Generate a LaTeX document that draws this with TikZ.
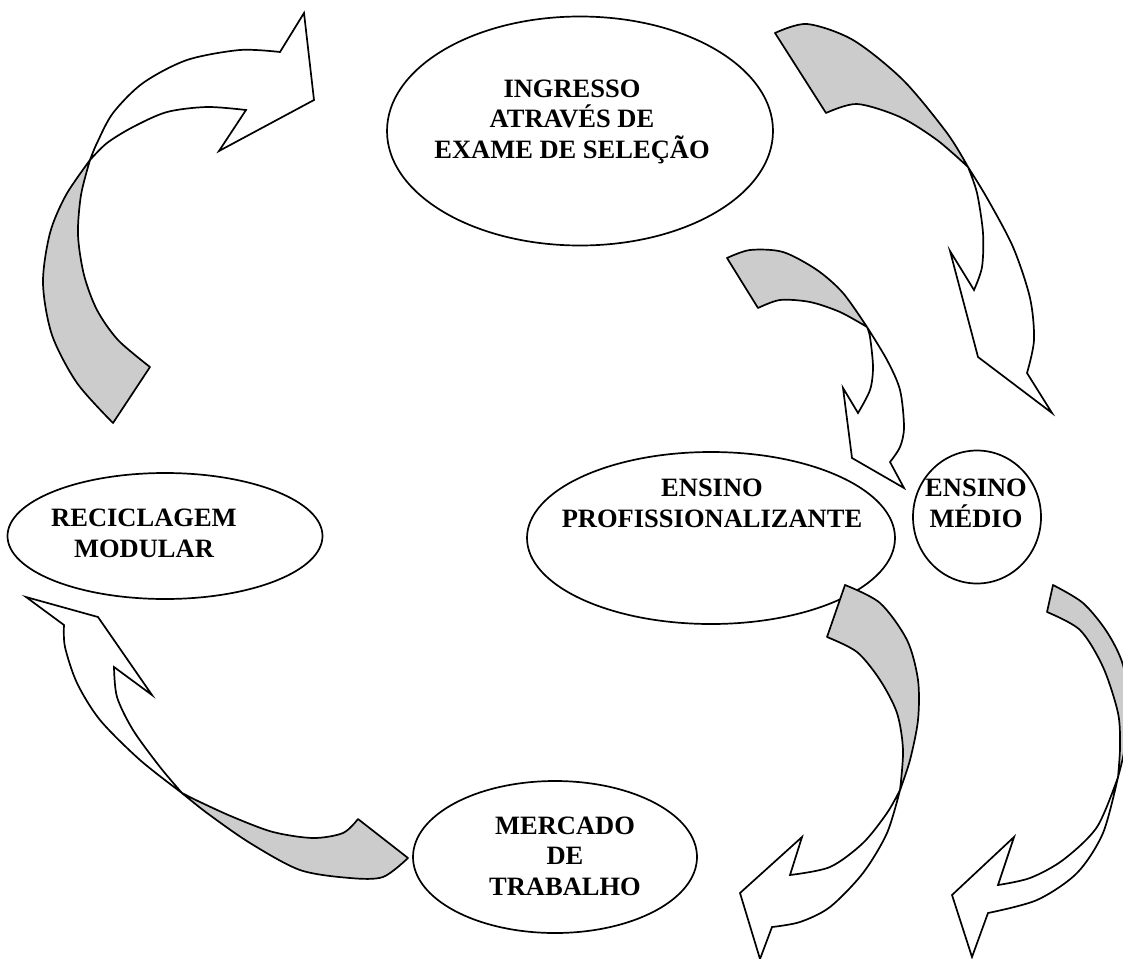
\documentclass[tikz,border=0pt]{standalone}
\usepackage{fontspec}
\setmainfont{Liberation Serif}
\usetikzlibrary{shapes.geometric}

\begin{document}
\begin{tikzpicture}[x=1pt, y=-1pt, line width=1.7pt,
  bubble/.style={draw, fill=white, ellipse, inner sep=0pt},
  lbl/.style={font=\bfseries\fontsize{26.5}{30.5}\selectfont, align=center, inner sep=0pt, anchor=base},
  backface/.style={draw, fill=black!20, line join=round},
  frontface/.style={draw, fill=white, line join=miter}]

\useasboundingbox (0,0) rectangle (1123,958);
\fill[white] (0,0) rectangle (1123,958);

% stages of the cycle
\node[bubble, minimum width=386pt, minimum height=229pt] (ingresso) at (580,131) {};
\node[bubble, minimum width=315pt, minimum height=126pt] (reciclagem) at (165,536) {};
\node[bubble, minimum width=368pt, minimum height=172pt] (profissional) at (711,538) {};
\node[bubble, minimum width=128pt, minimum height=133pt] (medio) at (977,517) {};
\node[bubble, minimum width=284pt, minimum height=152pt] (mercado) at (555,857) {};

% labels, placed by the baseline of their last line
\node[lbl] (tingresso) at (572,158) {INGRESSO\\ATRAVÉS DE\\EXAME DE SELEÇÃO};
\node[lbl] (treciclagem) at (144,557) {RECICLAGEM\\MODULAR};
\node[lbl] (tprofissional) at (712,527) {ENSINO\\PROFISSIONALIZANTE};
\node[lbl] (tmedio) at (976,527) {ENSINO\\MÉDIO};
\node[lbl] (tmercado) at (565,895) {MERCADO\\DE\\TRABALHO};

% curved arrow, upper left
\path[backface] plot[smooth] coordinates {(113,423) (77,383) (52,335) (43,283) (50,233) (66,195) (90,160)}
  -- plot[smooth] coordinates {(90,160) (81,195) (78,235) (84,275) (97,310) (118,340) (150,367)} -- cycle;
\path[frontface] plot[smooth] coordinates {(90,160) (97,143) (113,113) (143,83) (187,60) (240,50) (280,52)}
  -- (304,13) -- (314,100) -- (219,151)
  -- plot[smooth] coordinates {(246,110) (207,107) (167,112) (133,127) (107,143) (90,160)} -- cycle;

% curved arrow, upper right
\path[backface] plot[smooth] coordinates {(775,33) (807,24) (853,40) (903,80) (947,133) (968,167)}
  -- plot[smooth] coordinates {(968,167) (937,140) (900,117) (857,104) (826,113)} -- cycle;
\path[frontface] plot[smooth] coordinates {(968,167) (987,198) (1013,247) (1030,298) (1034,340) (1027,373)}
  -- (1052,413) -- (978,357) -- (950,251)
  -- plot[smooth] coordinates {(974,290) (982,267) (983,233) (977,193) (968,167)} -- cycle;

% curved arrow, centre
\path[backface] plot[smooth] coordinates {(727,258) (750,250) (783,252) (817,270) (843,293) (867,327)}
  -- plot[smooth] coordinates {(867,327) (840,312) (810,302) (780,300) (758,308)} -- cycle;
\path[frontface] plot[smooth] coordinates {(867,327) (887,360) (900,390) (904,427) (900,447) (890,462)}
  -- (904,488) -- (852,458) -- (843,388)
  -- plot[smooth] coordinates {(858,413) (870,390) (873,367) (870,337) (867,327)} -- cycle;

% curved arrow, lower left
\path[backface] plot[smooth] coordinates {(408,858) (383,877) (350,878) (300,870) (250,843) (207,813) (182,793)}
  -- plot[smooth] coordinates {(182,793) (200,802) (233,817) (273,832) (313,838) (343,833) (358,819)} -- cycle;
\path[frontface] plot[smooth] coordinates {(182,793) (140,760) (100,720) (77,683) (65,647) (64,625)}
  -- (26,597) -- (98,617) -- (152,695)
  -- plot[smooth] coordinates {(114,667) (117,697) (133,730) (160,767) (182,793)} -- cycle;

% curved arrow, lower centre
\path[backface] plot[smooth] coordinates {(845,585) (880,603) (907,640) (918,680) (918,720) (910,760) (900,790)}
  -- plot[smooth] coordinates {(900,790) (903,750) (897,713) (880,680) (857,652) (827,637)} -- cycle;
\path[frontface] plot[smooth] coordinates {(900,790) (887,833) (863,873) (830,907) (800,922) (772,927)}
  -- (760,959) -- (740,893) -- (802,837)
  -- plot[smooth] coordinates {(790,875) (830,867) (863,843) (887,813) (900,790)} -- cycle;

% curved arrow, lower right
\path[backface] plot[smooth] coordinates {(1053,585) (1083,603) (1107,632) (1123,665) (1129,710) (1124,752) (1118,777)}
  -- plot[smooth] coordinates {(1118,777) (1120,747) (1118,713) (1103,667) (1080,630) (1047,612)} -- cycle;
\path[frontface] plot[smooth] coordinates {(1118,777) (1103,833) (1077,873) (1037,900) (988,913)}
  -- (972,957) -- (952,895) -- (1014,837)
  -- plot[smooth] coordinates {(998,885) (1030,878) (1063,860) (1097,827) (1118,777)} -- cycle;

\end{tikzpicture}
\end{document}
